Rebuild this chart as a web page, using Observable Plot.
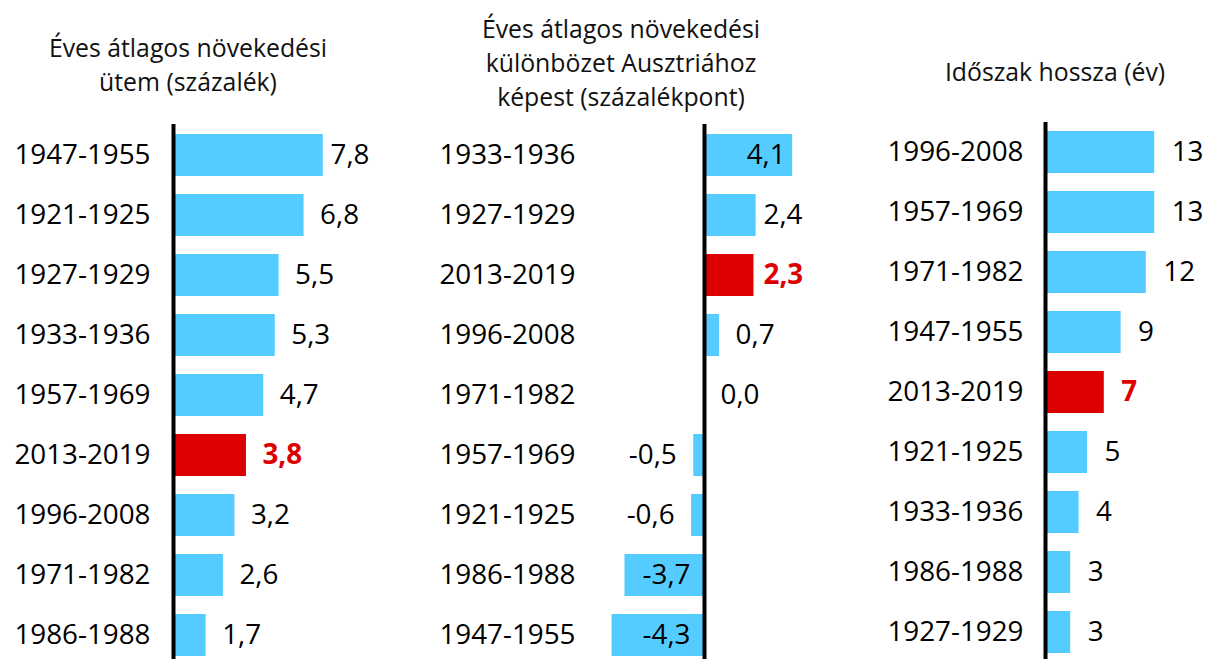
<!DOCTYPE html>
<html>
<head>
<meta charset="utf-8">
<script src="https://cdn.jsdelivr.net/npm/d3@7"></script>
<script src="https://cdn.jsdelivr.net/npm/@observablehq/plot@0.6"></script>
<style>
  html, body { margin: 0; padding: 0; background: #fff; overflow: hidden; }
  #root { position: relative; width: 1205px; height: 659px; font-family: "Open Sans", sans-serif; }
  .panel { position: absolute; top: 0; }
  .title { position: absolute; text-align: center; font-size: 24.8px; line-height: 34px; color: #111; white-space: nowrap; }
</style>
</head>
<body>
<div id="root"></div>
<script>
// ---- data ----
const periods1 = ["1947-1955","1921-1925","1927-1929","1933-1936","1957-1969","2013-2019","1996-2008","1971-1982","1986-1988"];
const growth   = [7.8, 6.8, 5.5, 5.3, 4.7, 3.8, 3.2, 2.6, 1.7];

const periods2 = ["1933-1936","1927-1929","2013-2019","1996-2008","1971-1982","1957-1969","1921-1925","1986-1988","1947-1955"];
const diffAustria = [4.1, 2.4, 2.3, 0.7, 0.0, -0.5, -0.6, -3.7, -4.3];

const periods3 = ["1996-2008","1957-1969","1971-1982","1947-1955","2013-2019","1921-1925","1933-1936","1986-1988","1927-1929"];
const lengths  = [13, 13, 12, 9, 7, 5, 4, 3, 3];

const highlight = "2013-2019";

const title1 = ["Éves átlagos növekedési", "ütem (százalék)"];
const title2 = ["Éves átlagos növekedési", "különbözet Ausztriához", "képest (százalékpont)"];
const title3 = ["Időszak hossza (év)"];

// ---- styling ----
const BLUE = "#55CCFF", RED = "#DD0000";
const FS = 27.8;
const root = document.getElementById("root");

const fmt1 = v => v.toFixed(1).replace(".", ",");
const fmt0 = v => String(v);

function panel({periods, values, fmt, left, width, zero, scale, marginLeft, marginTop, tickPadding, yRange, labelPlace}) {
  const rows = periods.map((p, i) => {
    const v = values[i];
    const pl = labelPlace(v, scale);
    return {period: p, value: v, text: fmt(v), lx: pl.x, anchor: pl.anchor, hi: p === highlight};
  });
  const zeroLocal = zero - left;
  const domain = [(marginLeft - zeroLocal) / scale, (width - zeroLocal) / scale];
  const marks = [
    Plot.barX(rows.filter(d => !d.hi), {x1: 0, x2: "value", y: "period", fill: BLUE}),
    Plot.barX(rows.filter(d => d.hi), {x1: 0, x2: "value", y: "period", fill: RED}),
    Plot.ruleX([0], {stroke: "#000", strokeWidth: 4}),
    Plot.axisY({tickSize: 0, tickPadding, fontSize: FS, fill: "#000", label: null})
  ];
  for (const anchor of ["start", "end"]) {
    for (const hi of [false, true]) {
      const sub = rows.filter(d => d.anchor === anchor && d.hi === hi);
      if (!sub.length) continue;
      marks.push(Plot.text(sub, {
        x: "lx", y: "period", text: "text",
        textAnchor: anchor, fontSize: FS, lineAnchor: "middle",
        fill: hi ? RED : "#000", fontWeight: hi ? "bold" : "normal"
      }));
    }
  }
  const chart = Plot.plot({
    width, height: 659,
    marginLeft, marginRight: 0, marginTop, marginBottom: 0,
    style: {fontFamily: "Open Sans, sans-serif", background: "transparent", overflow: "visible"},
    x: {domain, axis: null},
    y: {domain: periods, range: yRange, paddingInner: 0.3, paddingOuter: 0.15, label: null},
    marks
  });
  const div = document.createElement("div");
  div.className = "panel";
  div.style.left = left + "px";
  div.appendChild(chart);
  root.appendChild(div);
}

function addTitle(lines, center, top, w) {
  const t = document.createElement("div");
  t.className = "title";
  t.style.left = (center - w / 2) + "px";
  t.style.width = w + "px";
  t.style.top = top + "px";
  t.innerHTML = lines.join("<br>");
  root.appendChild(t);
}

// Panel 1
panel({
  periods: periods1, values: growth, fmt: fmt1,
  left: 0, width: 420, zero: 173, scale: 19.2, marginLeft: 173, marginTop: 124, tickPadding: 23,
  yRange: [125, 665],
  labelPlace: (v, s) => ({x: Math.min(v + 16 / s, 157 / s), anchor: "start"})
});

// Panel 2
panel({
  periods: periods2, values: diffAustria, fmt: fmt1,
  left: 430, width: 390, zero: 704, scale: 21.5, marginLeft: 170, marginTop: 124, tickPadding: 25,
  yRange: [125, 665],
  labelPlace: (v, s) => {
    if (v > 3) return {x: v - 7 / s, anchor: "end"};
    if (v >= 0) return {x: Math.min(v + 16 / s, 59 / s), anchor: "start"};
    if (v < -2) return {x: -14 / s, anchor: "end"};
    return {x: v - 17 / s, anchor: "end"};
  }
});

// Panel 3
panel({
  periods: periods3, values: lengths, fmt: fmt0,
  left: 830, width: 375, zero: 1045, scale: 8.4, marginLeft: 215, marginTop: 122, tickPadding: 22,
  yRange: [122, 662],
  labelPlace: (v, s) => ({x: v + 17 / s, anchor: "start"})
});

addTitle(title1, 188, 30, 380);
addTitle(title2, 621, 11, 380);
addTitle(title3, 1055, 54, 320);
</script>
</body>
</html>
